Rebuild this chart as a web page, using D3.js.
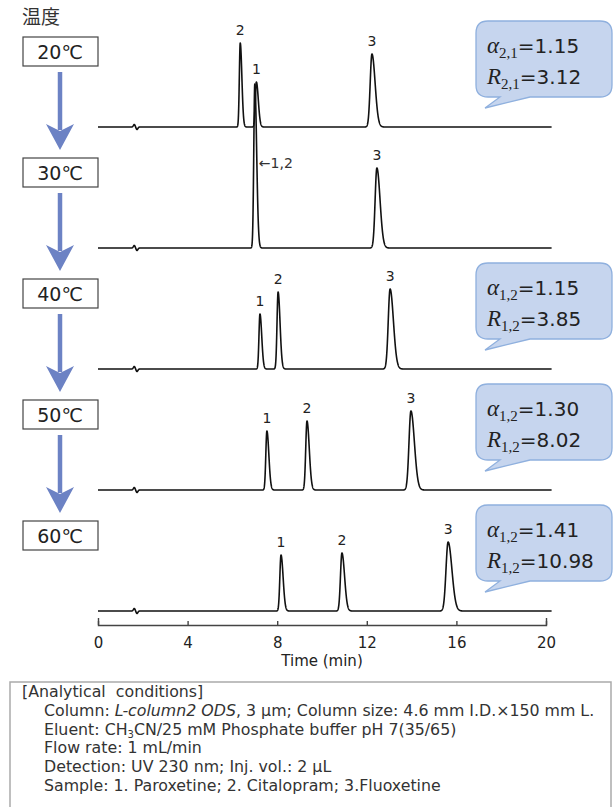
<!DOCTYPE html>
<html>
<head>
<meta charset="utf-8">
<script src="https://cdn.jsdelivr.net/npm/d3@7"></script>
<style>
  html, body { margin: 0; padding: 0; background: #fff; }
  svg { display: block; }
</style>
</head>
<body>
<svg id="chart" width="614" height="807"></svg>
<script>
// Column temperatures, one chromatogram each
const temperatures = ["20℃", "30℃", "40℃", "50℃", "60℃"];

// Retention times (min) of the peaks in each run
const retentionTimes = [
  [6.35, 7.07, 12.23],
  [7.00, 12.45],
  [7.23, 8.04, 13.04],
  [7.54, 9.33, 13.97],
  [8.17, 10.89, 15.63]
];

// Peak heights (detector response, arbitrary units)
const peakHeights = [
  [84, 45, 73],
  [164, 80],
  [55, 77, 80],
  [59, 69, 79],
  [56, 58, 69]
];

// Peak widths (Gaussian sigma, min)
const peakWidths = [
  [0.040, 0.048, 0.078],
  [0.045, 0.078],
  [0.044, 0.048, 0.082],
  [0.048, 0.056, 0.086],
  [0.052, 0.065, 0.094]
];

// Peak labels (compound numbers)
const peakLabels = [
  ["2", "1", "3"],
  ["←1,2", "3"],
  ["1", "2", "3"],
  ["1", "2", "3"],
  ["1", "2", "3"]
];

// Injection disturbance near the void time
const injectionTime = 1.68;
const injectionAmplitude = 2.5;

// Selectivity / resolution callouts per run (null = none)
const calloutSubscripts = ["2,1", null, "1,2", "1,2", "1,2"];
const alphaValues = ["1.15", null, "1.15", "1.30", "1.41"];
const resolutionValues = ["3.12", null, "3.85", "8.02", "10.98"];

// Time axis
const timeTicks = [0, 4, 8, 12, 16, 20];
const timeEnd = 20.25;

const conditionLines = [
  "[Analytical  conditions]",
  "Column: |L-column2 ODS|, 3 µm; Column size: 4.6 mm I.D.×150 mm L.",
  "Eluent: CH_3_CN/25 mM Phosphate buffer pH 7(35/65)",
  "Flow rate: 1 mL/min",
  "Detection: UV 230 nm; Inj. vol.: 2 µL",
  "Sample: 1. Paroxetine; 2. Citalopram; 3.Fluoxetine"
];

// ---------- layout ----------
const svg = d3.select("#chart");
const sans = "'DejaVu Sans', Verdana, sans-serif";
const serif = "'Liberation Serif', 'DejaVu Serif', serif";
const arrowBlue = "#6c82c4";

const x = d3.scaleLinear().domain([0, 20]).range([98, 546]);
const firstBaseline = 127, traceGap = 121;
const baselineY = i => firstBaseline + i * traceGap;
const response = d3.scaleLinear().domain([0, 100]).range([0, 100]);

// tailed Gaussian peak profile
function peakShape(t, rt, h, s) {
  const sd = t < rt ? s : s * 1.8;
  return h * Math.exp(-0.5 * ((t - rt) / sd) ** 2);
}
function signalAt(i, t) {
  let v = 0;
  retentionTimes[i].forEach((rt, k) => { v += peakShape(t, rt, peakHeights[i][k], peakWidths[i][k]); });
  // small up/down blip at injection
  v += injectionAmplitude * Math.exp(-0.5 * ((t - injectionTime + 0.06) / 0.04) ** 2);
  v -= injectionAmplitude * Math.exp(-0.5 * ((t - injectionTime - 0.06) / 0.04) ** 2);
  return v;
}

const timeGrid = d3.range(0, timeEnd + 0.0001, 0.005);
const line = d3.line().x(d => x(d[0])).y(d => d[1]);

// ---------- chromatograms ----------
const traces = svg.append("g").attr("class", "traces");
temperatures.forEach((temp, i) => {
  const b = baselineY(i);
  const pts = timeGrid.map(t => [t, b - response(signalAt(i, t))]);
  traces.append("path")
    .attr("d", line(pts))
    .attr("fill", "none")
    .attr("stroke", "#111")
    .attr("stroke-width", 1.6)
    .attr("stroke-linejoin", "round");

  // peak labels
  retentionTimes[i].forEach((rt, k) => {
    const lab = peakLabels[i][k];
    const top = b - response(peakHeights[i][k]);
    if (lab.startsWith("←")) {
      traces.append("text")
        .attr("x", x(rt) + 4)
        .attr("y", top + 84)
        .attr("font-family", sans)
        .attr("font-size", 14)
        .attr("fill", "#333")
        .text(lab);
    } else {
      traces.append("text")
        .attr("x", x(rt))
        .attr("y", top - 8)
        .attr("text-anchor", "middle")
        .attr("font-family", sans)
        .attr("font-size", 14)
        .attr("fill", "#222")
        .text(lab);
    }
  });
});

// ---------- temperature boxes & arrows ----------
svg.append("text")
  .attr("x", 22).attr("y", 24)
  .attr("font-family", "'Noto Sans CJK JP', sans-serif")
  .attr("font-size", 19)
  .attr("fill", "#333")
  .text("温度");

const boxX = 23, boxW = 75, boxH = 29, boxCx = 60;
temperatures.forEach((temp, i) => {
  const top = baselineY(i) - 90;
  svg.append("rect")
    .attr("x", boxX).attr("y", top)
    .attr("width", boxW).attr("height", boxH)
    .attr("fill", "#fff")
    .attr("stroke", "#444")
    .attr("stroke-width", 1.2);
  svg.append("text")
    .attr("x", boxCx).attr("y", top + 22)
    .attr("text-anchor", "middle")
    .attr("font-family", sans)
    .attr("font-size", 19)
    .attr("fill", "#222")
    .text(temp);

  if (i < temperatures.length - 1) {
    const start = top + boxH + 6;
    const tip = baselineY(i + 1) - 90 - 8;
    svg.append("line")
      .attr("x1", boxCx).attr("x2", boxCx)
      .attr("y1", start).attr("y2", tip - 20)
      .attr("stroke", arrowBlue)
      .attr("stroke-width", 4.5);
    svg.append("path")
      .attr("d", `M${boxCx},${tip} L${boxCx - 14},${tip - 26} L${boxCx},${tip - 19} L${boxCx + 14},${tip - 26} Z`)
      .attr("fill", arrowBlue);
  }
});

// ---------- callouts ----------
const bubbleX = 476, bubbleW = 136, bubbleH = 76, r = 12;
temperatures.forEach((temp, i) => {
  if (!alphaValues[i]) return;
  const top = baselineY(i) - 106;
  const bot = top + bubbleH, right = bubbleX + bubbleW, left = bubbleX;
  const tipX = 485, tipY = top + 87;
  const d = [
    `M${left + r},${top}`,
    `H${right - r}`, `Q${right},${top} ${right},${top + r}`,
    `V${bot - r}`, `Q${right},${bot} ${right - r},${bot}`,
    `H${530}`, `L${tipX},${tipY}`, `L${500},${bot}`,
    `H${left + r}`, `Q${left},${bot} ${left},${bot - r}`,
    `V${top + r}`, `Q${left},${top} ${left + r},${top}`, "Z"
  ].join(" ");
  svg.append("path")
    .attr("d", d)
    .attr("fill", "#c6d5ee")
    .attr("stroke", "#8fb0de")
    .attr("stroke-width", 1.3);

  const rows = [["α", alphaValues[i]], ["R", resolutionValues[i]]];
  rows.forEach(([sym, val], j) => {
    const t = svg.append("text")
      .attr("x", 487)
      .attr("y", top + 32 + j * 31)
      .attr("fill", "#222");
    t.append("tspan")
      .attr("font-family", serif)
      .attr("font-style", "italic")
      .attr("font-size", 23)
      .text(sym);
    t.append("tspan")
      .attr("font-family", serif)
      .attr("font-size", 15)
      .attr("dy", 5)
      .text(calloutSubscripts[i]);
    t.append("tspan")
      .attr("font-family", sans)
      .attr("font-size", 20)
      .attr("dy", -5)
      .text("=" + val);
  });
});

// ---------- time axis ----------
const axisY = 625;
const axis = d3.axisBottom(x)
  .tickValues(timeTicks)
  .tickFormat(d3.format("d"))
  .tickSizeInner(-4)
  .tickSizeOuter(-7)
  .tickPadding(12);
const ax = svg.append("g")
  .attr("transform", `translate(0,${axisY})`)
  .call(axis);
ax.select(".domain").attr("stroke", "#444").attr("stroke-width", 1.4);
ax.selectAll(".tick line").attr("stroke", "#444").attr("stroke-width", 1.4);
ax.selectAll(".tick text")
  .attr("font-family", sans)
  .attr("font-size", 15)
  .attr("fill", "#222");
svg.append("text")
  .attr("x", x(10)).attr("y", 666)
  .attr("text-anchor", "middle")
  .attr("font-family", sans)
  .attr("font-size", 15)
  .attr("fill", "#222")
  .text("Time (min)");

// ---------- analytical conditions ----------
svg.append("rect")
  .attr("x", 10).attr("y", 682)
  .attr("width", 601).attr("height", 140)
  .attr("fill", "#fff")
  .attr("stroke", "#aaa")
  .attr("stroke-width", 1.5);

const condFont = "'DejaVu Sans', Verdana, sans-serif";
conditionLines.forEach((ln, j) => {
  const t = svg.append("text")
    .attr("x", j === 0 ? 22 : 44)
    .attr("y", 697 + j * 18.8)
    .attr("font-family", condFont)
    .attr("font-size", 15.8)
    .attr("fill", "#333")
    .style("white-space", "pre");
  // |...| marks italic runs, _..._ marks subscripts
  let shift = 0;
  ln.split(/(\|[^|]*\||_[^_]*_)/).forEach(part => {
    if (!part) return;
    if (part.startsWith("|")) {
      t.append("tspan").attr("font-style", "italic").attr("dy", -shift).text(part.slice(1, -1));
      shift = 0;
    } else if (part.startsWith("_")) {
      t.append("tspan").attr("font-size", 10).attr("dy", 3 - shift).text(part.slice(1, -1));
      shift = 3;
    } else {
      t.append("tspan").attr("dy", -shift).text(part);
      shift = 0;
    }
  });
});
</script>
</body>
</html>
